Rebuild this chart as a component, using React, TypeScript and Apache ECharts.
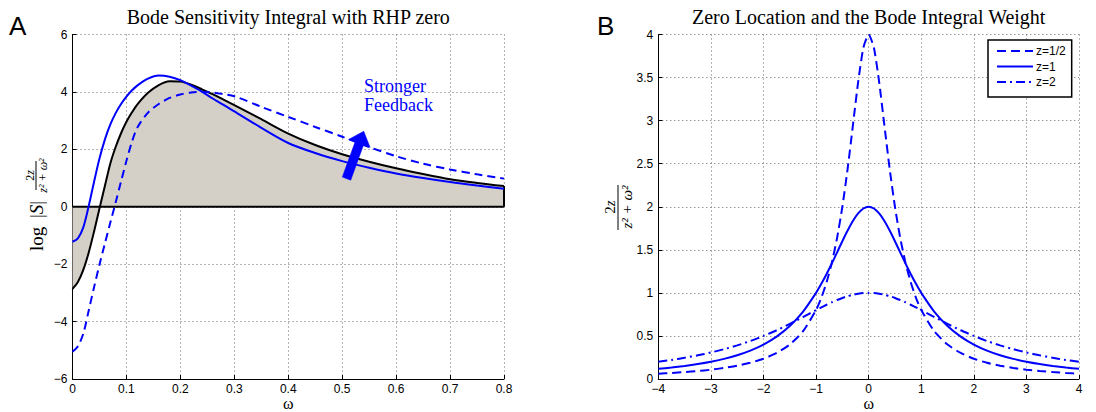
import React, { useEffect, useRef } from "react";
import * as echarts from "echarts";

// ---------- Panel A data ----------
const omegaA = [0, 0.01, 0.02, 0.03, 0.04, 0.05, 0.06, 0.07, 0.08, 0.09, 0.1, 0.11, 0.12, 0.14, 0.16, 0.18, 0.2, 0.22, 0.24, 0.26, 0.28, 0.3, 0.35, 0.4, 0.45, 0.5, 0.55, 0.6, 0.65, 0.7, 0.75, 0.8];
const nominalCurve = [-2.86, -2.62, -2.2, -1.6, -0.86, -0.06, 0.72, 1.5, 2.08, 2.56, 2.96, 3.28, 3.56, 3.97, 4.24, 4.37, 4.36, 4.25, 4.09, 3.92, 3.73, 3.54, 3.05, 2.55, 2.15, 1.83, 1.57, 1.34, 1.14, 0.96, 0.83, 0.72];
const solidCurve = [-1.22, -1.1, -0.72, 0.02, 0.87, 1.68, 2.34, 2.86, 3.26, 3.58, 3.84, 4.05, 4.22, 4.46, 4.57, 4.53, 4.41, 4.22, 4.01, 3.77, 3.55, 3.32, 2.75, 2.22, 1.87, 1.59, 1.36, 1.16, 1.0, 0.86, 0.74, 0.63];
const dashedCurve = [-5.05, -4.86, -4.42, -3.62, -2.8, -2.02, -1.28, -0.56, 0.15, 0.88, 1.6, 2.25, 2.75, 3.28, 3.58, 3.79, 3.91, 3.98, 4.0, 3.98, 3.92, 3.85, 3.48, 3.13, 2.78, 2.44, 2.08, 1.76, 1.5, 1.3, 1.13, 0.98];
const arrowTail = [0.508, 0.98];
const arrowTip = [0.54, 2.63];
const xTicksA = { min: 0, max: 0.8, interval: 0.1 };
const yTicksA = { min: -6, max: 6, interval: 2 };

// ---------- Panel B data ----------
const omegaB = [-4, -3.75, -3.5, -3.25, -3, -2.75, -2.5, -2.25, -2, -1.75, -1.5, -1.25, -1, -0.9, -0.8, -0.7, -0.6, -0.5, -0.4, -0.3, -0.2, -0.1, 0, 0.1, 0.2, 0.3, 0.4, 0.5, 0.6, 0.7, 0.8, 0.9, 1, 1.25, 1.5, 1.75, 2, 2.25, 2.5, 2.75, 3, 3.25, 3.5, 3.75, 4];
const zHalf = [0.062, 0.07, 0.08, 0.092, 0.108, 0.128, 0.154, 0.188, 0.235, 0.302, 0.4, 0.552, 0.8, 0.943, 1.124, 1.351, 1.639, 2.0, 2.439, 2.941, 3.448, 3.846, 4.0, 3.846, 3.448, 2.941, 2.439, 2.0, 1.639, 1.351, 1.124, 0.943, 0.8, 0.552, 0.4, 0.302, 0.235, 0.188, 0.154, 0.128, 0.108, 0.092, 0.08, 0.07, 0.062];
const zOne = [0.118, 0.133, 0.151, 0.173, 0.2, 0.234, 0.276, 0.33, 0.4, 0.492, 0.615, 0.78, 1.0, 1.105, 1.22, 1.342, 1.471, 1.6, 1.724, 1.835, 1.923, 1.98, 2.0, 1.98, 1.923, 1.835, 1.724, 1.6, 1.471, 1.342, 1.22, 1.105, 1.0, 0.78, 0.615, 0.492, 0.4, 0.33, 0.276, 0.234, 0.2, 0.173, 0.151, 0.133, 0.118];
const zTwo = [0.2, 0.221, 0.246, 0.275, 0.308, 0.346, 0.39, 0.441, 0.5, 0.566, 0.64, 0.719, 0.8, 0.832, 0.862, 0.891, 0.917, 0.941, 0.962, 0.978, 0.99, 0.998, 1.0, 0.998, 0.99, 0.978, 0.962, 0.941, 0.917, 0.891, 0.862, 0.832, 0.8, 0.719, 0.64, 0.566, 0.5, 0.441, 0.39, 0.346, 0.308, 0.275, 0.246, 0.221, 0.2];
const legendNames = ["z=1/2", "z=1", "z=2"];
const xTicksB = { min: -4, max: 4, interval: 1 };
const yTicksB = { min: 0, max: 4, interval: 0.5 };

const titleA = "Bode Sensitivity Integral with RHP zero";
const titleB = "Zero Location and the Bode Integral Weight";

const BLUE = "#0000ff";
const SERIF = "'Liberation Serif', 'Times New Roman', serif";
const SANS = "'Liberation Sans', Arial, Helvetica, sans-serif";

const minusFmt = (v: number) => String(v).replace("-", "\u2212");

function axisCommon(grid: number, t: { min: number; max: number; interval: number }, isX: boolean) {
  return {
    type: "value",
    gridIndex: grid,
    min: t.min,
    max: t.max,
    interval: t.interval,
    axisLine: { show: true, onZero: false, lineStyle: { color: "#000", width: 1 } },
    axisTick: { show: true, inside: true, length: 4, lineStyle: { color: "#000" } },
    axisLabel: { color: "#000", fontFamily: SANS, fontSize: 12, margin: isX ? 4 : 5, formatter: minusFmt },
    splitLine: { show: true, lineStyle: { color: "#666", type: [1, 3], width: 1 } },
  };
}

function staticGraphics(): any[] {
  const t = (id: string, x: number, y: number, text: string, size: number, family: string, align = "center", color = "#000") => ({
    id,
    type: "text",
    x,
    y,
    style: { text, fontSize: size, fontFamily: family, fill: color, align, verticalAlign: "middle" },
  });
  const rich2z = (size: number) => ({
    text: "{n|2}{i|z}",
    fontSize: size,
    fontFamily: SERIF,
    fill: "#000",
    align: "center",
    verticalAlign: "middle",
    rich: { n: { fontSize: size, fontFamily: SERIF }, i: { fontSize: size, fontFamily: SERIF, fontStyle: "italic" } },
  });
  const denom = (size: number) => ({
    text: "z\u00b2 + \u03c9\u00b2",
    fontSize: size,
    fontFamily: SERIF,
    fontStyle: "italic",
    fill: "#000",
    align: "center",
    verticalAlign: "middle",
  });
  return [
    t("lblA", 9, 26, "A", 26, SANS, "left"),
    t("lblB", 597, 26, "B", 26, SANS, "left"),
    t("titA", 288.3, 17.2, titleA, 20, SERIF),
    t("titB", 868.7, 17.2, titleB, 20, SERIF),
    t("omA", 288.3, 403.8, "\u03c9", 16, SERIF),
    t("omB", 868.7, 403.8, "\u03c9", 16, SERIF),
    t("ann1", 364, 86.2, "Stronger", 18, SERIF, "left", BLUE),
    t("ann2", 364, 104.9, "Feedback", 18, SERIF, "left", BLUE),
    // y label of panel A: log|S| 2z/(z^2+w^2)
    {
      id: "ylabA",
      type: "group",
      x: 36,
      y: 206,
      rotation: Math.PI / 2,
      children: [
        { type: "text", x: -45, y: 0, style: { text: "log", fontSize: 19, fontFamily: SERIF, fill: "#000", align: "left", verticalAlign: "middle" } },
        {
          type: "text",
          x: -12,
          y: 0,
          style: {
            text: "{n||}{i|S}{n||}",
            fontSize: 19,
            fontFamily: SERIF,
            fill: "#000",
            align: "left",
            verticalAlign: "middle",
            rich: { n: { fontSize: 19, fontFamily: SERIF }, i: { fontSize: 19, fontFamily: SERIF, fontStyle: "italic" } },
          },
        },
        { type: "line", shape: { x1: 16, y1: 0, x2: 45, y2: 0 }, style: { stroke: "#000", lineWidth: 1 } },
        { type: "text", x: 30.5, y: -6.5, style: rich2z(12) },
        { type: "text", x: 30.5, y: 7, style: denom(12) },
      ],
    },
    // y label of panel B: 2z/(z^2+w^2)
    {
      id: "ylabB",
      type: "group",
      x: 618,
      y: 207,
      rotation: Math.PI / 2,
      children: [
        { type: "line", shape: { x1: -23, y1: 0, x2: 22, y2: 0 }, style: { stroke: "#000", lineWidth: 1 } },
        { type: "text", x: 0, y: -8, style: rich2z(15) },
        { type: "text", x: 0, y: 8.5, style: denom(15) },
      ],
    },
  ];
}

function App() {
  const ref = useRef<HTMLDivElement>(null);

  useEffect(() => {
    if (!ref.current) return;
    const chart = echarts.init(ref.current, undefined, { renderer: "svg", width: 1096, height: 412 });
    const last = omegaA.length - 1;

    const option: any = {
      animation: false,
      backgroundColor: "#ffffff",
      grid: [
        { left: 72.5, top: 34.5, width: 431.5, height: 344.5, containLabel: false },
        { left: 658.3, top: 34.5, width: 420.7, height: 344.5, containLabel: false },
      ],
      xAxis: [axisCommon(0, xTicksA, true), axisCommon(1, xTicksB, true)],
      yAxis: [axisCommon(0, yTicksA, false), axisCommon(1, yTicksB, false)],
      legend: {
        data: legendNames,
        orient: "vertical",
        left: 988,
        top: 40,
        itemWidth: 36,
        itemHeight: 12,
        itemGap: 3.5,
        padding: [5, 6, 9, 8],
        borderColor: "#000",
        borderWidth: 1.5,
        backgroundColor: "#fff",
        selectedMode: false,
        itemStyle: { opacity: 0 },
        textStyle: { fontFamily: SANS, fontSize: 12, color: "#000", padding: [0, 0, 0, -2] },
      },
      series: [
        {
          name: "nominal",
          type: "line",
          xAxisIndex: 0,
          yAxisIndex: 0,
          data: omegaA.map((w, i) => [w, nominalCurve[i]]),
          symbol: "none",
          smooth: 0.3,
          lineStyle: { color: "#000", width: 2 },
          areaStyle: { color: "#d4d0c8", opacity: 1 },
          z: 2,
        },
        {
          name: "zeroEdge",
          type: "line",
          xAxisIndex: 0,
          yAxisIndex: 0,
          data: [
            [omegaA[0], 0],
            [omegaA[last], 0],
          ],
          symbol: "none",
          lineStyle: { color: "#000", width: 2 },
          z: 3,
        },
        {
          name: "rightEdge",
          type: "line",
          xAxisIndex: 0,
          yAxisIndex: 0,
          data: [
            [omegaA[last], 0],
            [omegaA[last], nominalCurve[last]],
          ],
          symbol: "none",
          lineStyle: { color: "#000", width: 2 },
          z: 3,
        },
        {
          name: "strongSolid",
          type: "line",
          xAxisIndex: 0,
          yAxisIndex: 0,
          data: omegaA.map((w, i) => [w, solidCurve[i]]),
          symbol: "none",
          smooth: 0.3,
          lineStyle: { color: BLUE, width: 2 },
          z: 4,
        },
        {
          name: "strongDashed",
          type: "line",
          xAxisIndex: 0,
          yAxisIndex: 0,
          data: omegaA.map((w, i) => [w, dashedCurve[i]]),
          symbol: "none",
          smooth: 0.3,
          lineStyle: { color: BLUE, width: 2, type: [8, 5] },
          z: 4,
        },
        {
          name: legendNames[0],
          type: "line",
          xAxisIndex: 1,
          yAxisIndex: 1,
          data: omegaB.map((w, i) => [w, zHalf[i]]),
          symbol: "none",
          smooth: 0.2,
          color: BLUE,
          lineStyle: { color: BLUE, width: 2, type: [9, 5] },
        },
        {
          name: legendNames[1],
          type: "line",
          xAxisIndex: 1,
          yAxisIndex: 1,
          data: omegaB.map((w, i) => [w, zOne[i]]),
          symbol: "none",
          smooth: 0.2,
          color: BLUE,
          lineStyle: { color: BLUE, width: 2 },
        },
        {
          name: legendNames[2],
          type: "line",
          xAxisIndex: 1,
          yAxisIndex: 1,
          data: omegaB.map((w, i) => [w, zTwo[i]]),
          symbol: "none",
          smooth: 0.2,
          color: BLUE,
          lineStyle: { color: BLUE, width: 2, type: [9, 4, 2, 4] },
        },
      ],
      graphic: staticGraphics(),
    };
    chart.setOption(option);

    // arrow drawn from data coordinates converted by the axes
    const p0 = chart.convertToPixel({ xAxisIndex: 0, yAxisIndex: 0 }, arrowTail) as number[];
    const p1 = chart.convertToPixel({ xAxisIndex: 0, yAxisIndex: 0 }, arrowTip) as number[];
    if (p0 && p1) {
      const dx = p1[0] - p0[0];
      const dy = p1[1] - p0[1];
      const len = Math.sqrt(dx * dx + dy * dy) || 1;
      const ux = dx / len;
      const uy = dy / len;
      const nx = -uy;
      const ny = ux;
      const shaft = 4.5;
      const head = 11.5;
      const headLen = 13;
      const bx = p1[0] - ux * headLen;
      const by = p1[1] - uy * headLen;
      const pts = [
        [p0[0] + nx * shaft, p0[1] + ny * shaft],
        [bx + nx * shaft, by + ny * shaft],
        [bx + nx * head, by + ny * head],
        [p1[0], p1[1]],
        [bx - nx * head, by - ny * head],
        [bx - nx * shaft, by - ny * shaft],
        [p0[0] - nx * shaft, p0[1] - ny * shaft],
      ];
      chart.setOption({
        graphic: [
          ...staticGraphics(),
          { id: "arrow", type: "polygon", shape: { points: pts }, style: { fill: BLUE, stroke: BLUE, lineWidth: 0.5 }, z: 10 },
        ],
      });
    }

    return () => {
      chart.dispose();
    };
  }, []);

  return <div ref={ref} style={{ position: "fixed", left: 0, top: 0, width: 1096, height: 412, background: "#fff" }} />;
}

export default App;
